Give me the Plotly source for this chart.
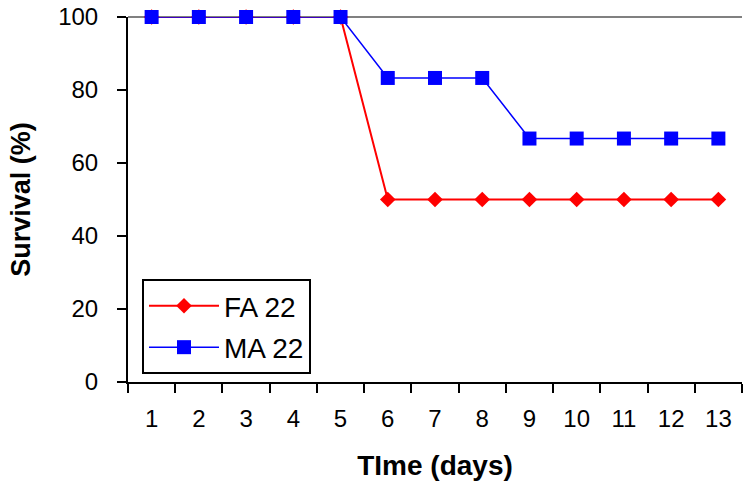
import plotly.graph_objects as go

# Survival over time for the two groups
days = ["1", "2", "3", "4", "5", "6", "7", "8", "9", "10", "11", "12", "13"]
fa22 = [100, 100, 100, 100, 100, 50, 50, 50, 50, 50, 50, 50, 50]
ma22 = [100, 100, 100, 100, 100, 83.3, 83.3, 83.3, 66.7, 66.7, 66.7, 66.7, 66.7]
y_ticks = [0, 20, 40, 60, 80, 100]

FONT = "Liberation Sans, Arial, sans-serif"

fig = go.Figure()
fig.add_trace(go.Scatter(
    x=days, y=fa22, name="FA 22", mode="lines+markers", legendgroup="fa",
    line=dict(color="#ff0000", width=2),
    marker=dict(symbol="diamond", size=12, color="#ff0000"),
    cliponaxis=False,
))
fig.add_trace(go.Scatter(
    x=days, y=ma22, name="MA 22", mode="lines+markers", legendgroup="ma",
    line=dict(color="#0000ff", width=1.5),
    marker=dict(symbol="square", size=14, color="#0000ff"),
    cliponaxis=False,
))

# grey rule along the top edge of the plot area (the 100 % level)
fig.add_shape(type="line", xref="paper", x0=0, x1=1, yref="paper",
              y0=1, y1=1,
              line=dict(color="#808080", width=2), layer="below")

fig.update_layout(
    width=744, height=486,
    margin=dict(l=128, r=2, t=17, b=104, autoexpand=False),
    paper_bgcolor="white", plot_bgcolor="white",
    font=dict(family=FONT, color="black", size=24),
    showlegend=True,
    legend=dict(
        x=0.0228, y=0.282, xanchor="left", yanchor="top",
        bordercolor="black", borderwidth=2, bgcolor="white",
        font=dict(size=28, family=FONT), itemwidth=70,
        tracegroupgap=2,
    ),
    xaxis=dict(
        type="category", tickson="boundaries", range=[-0.5, len(days) - 0.5],
        automargin=False,
        ticks="outside", ticklen=9, tickwidth=2, tickcolor="black",
        showline=True, linecolor="black", linewidth=2,
        showgrid=False, zeroline=False,
        tickfont=dict(size=24), ticklabelstandoff=14,
        title=dict(text="<b>TIme (days)</b>", font=dict(size=28), standoff=25),
    ),
    yaxis=dict(
        range=[0, 100], tickvals=y_ticks, automargin=False,
        ticks="outside", ticklen=9, tickwidth=2, tickcolor="black",
        showline=True, linecolor="black", linewidth=2,
        showgrid=False, zeroline=False,
        tickfont=dict(size=24), ticklabelstandoff=14,
        title=dict(text="<b>Survival (%)</b>", font=dict(size=27), standoff=20),
    ),
)

fig.write_html("out.html")
